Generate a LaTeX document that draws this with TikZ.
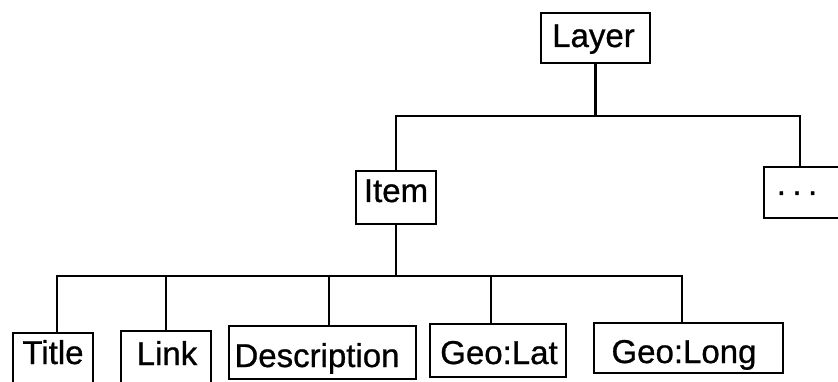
\documentclass[tikz,border=0pt]{standalone}
\usepackage{fontspec}
\setmainfont{Liberation Sans}[FakeBold=0.8]
\begin{document}
\begin{tikzpicture}[x=1pt, y=-1pt,
  box/.style={draw=black, line width=2.2pt, rectangle, inner sep=0pt, anchor=north west},
  lbl/.style={anchor=base, inner sep=0pt, font=\fontsize{33}{40}\selectfont},
  wire/.style={line width=2.6pt, line cap=rect}]
\useasboundingbox (0,0) rectangle (838,382);
\clip (0,0) rectangle (838,382);

% frames of the tree nodes
\node[box, minimum width=109pt, minimum height=50pt] (layer) at (540,12) {};
\node[box, minimum width=80pt,  minimum height=53pt] (item)  at (355,170) {};
\node[box, minimum width=100pt, minimum height=51pt] (more)  at (763,166) {};
\node[box, minimum width=80pt,  minimum height=60pt] (title) at (12,332) {};
\node[box, minimum width=90pt,  minimum height=60pt] (link)  at (120,330) {};
\node[box, minimum width=187pt, minimum height=53pt] (desc)  at (228,325) {};
\node[box, minimum width=136pt, minimum height=53pt] (lat)   at (429,323) {};
\node[box, minimum width=189pt, minimum height=50pt] (long)  at (593,322) {};

% labels inside the frames
\node[lbl] (layertxt) at (593.5,47) {Layer};
\node[lbl] (itemtxt)  at (396,202)  {Item};
\node[lbl] (moretxt)  at (797,195)  {.\hspace{6.5pt}.\hspace{6.5pt}.};
\node[lbl] (titletxt) at (53,364)   {Title};
\node[lbl] (linktxt)  at (167,365)  {Link};
\node[lbl] (desctxt)  at (317,367)  {Description};
\node[lbl] (lattxt)   at (499,364)  {Geo:Lat};
\node[lbl] (longtxt)  at (684,363)  {Geo:Long};

% branching points of the two levels
\coordinate (topbus) at (596,116);
\coordinate (lowbus) at (397,276);

% Layer -> Item, ...
\draw[wire] (layer.south) -- (layer.south |- topbus);
\draw[wire] (item.north) |- (topbus) -| ([xshift=-14pt]more.north);

% Item -> attributes
\draw[wire] (item.south) -- (item.south |- lowbus);
\draw[wire] ([xshift=4pt]title.north) |- (lowbus) -| ([xshift=-6.5pt]long.north);
\draw[wire] (link.north) -- (link.north |- lowbus);
\draw[wire] ([xshift=6.5pt]desc.north) -- ([xshift=6.5pt]desc.north |- lowbus);
\draw[wire] ([xshift=-7pt]lat.north) -- ([xshift=-7pt]lat.north |- lowbus);
\end{tikzpicture}
\end{document}
